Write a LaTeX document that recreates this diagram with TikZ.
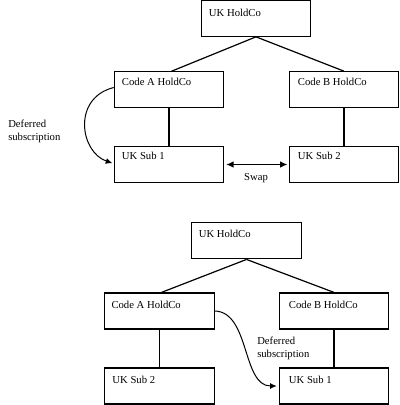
\documentclass[tikz,border=0pt]{standalone}
\usepackage{fontspec}
\setmainfont{Liberation Serif}
\usetikzlibrary{arrows.meta}
\begin{document}
\begin{tikzpicture}[x=0.75pt,y=-0.75pt,
  box/.style={draw, line width=0.9pt, minimum width=82pt, minimum height=26.6pt, inner sep=0pt},
  lbl/.style={font=\fontsize{8}{9.5}\selectfont, inner sep=0pt, anchor=west},
  conn/.style={line width=0.9pt},
  tip/.style={line width=0.75pt, -{Latex[length=5pt,width=4.5pt]}}]
\useasboundingbox (0,0) rectangle (400,405);
% top diagram
\node[box] (ukh) at (256,18.5) {};
\node[box] (ca) at (169,89.5) {};
\node[box] (cb) at (344,89.5) {};
\node[box] (s1) at (169,164.5) {};
\node[box] (s2) at (344,164.5) {};
\node[lbl] (ukht) at ([shift={(8,13)}]ukh.north west) {UK HoldCo};
\node[lbl] (cat) at ([shift={(8,11)}]ca.north west) {Code A HoldCo};
\node[lbl] (cbt) at ([shift={(9,11)}]cb.north west) {Code B HoldCo};
\node[lbl] (s1t) at ([shift={(8,10)}]s1.north west) {UK Sub 1};
\node[lbl] (s2t) at ([shift={(9,10)}]s2.north west) {UK Sub 2};
\draw[conn] (ukh.south) -- ([xshift=2]ca.north);
\draw[conn] (ukh.south) -- (cb.north);
\draw[conn] (ca.south) -- (s1.north);
\draw[conn] (cb.south) -- (s2.north);
\draw[line width=0.9pt, {Latex[length=5.5pt,width=5pt]}-{Latex[length=5.5pt,width=5pt]}] ([xshift=1.5]s1.east) -- ([xshift=-1]s2.west);
\node[font=\fontsize{8}{9.5}\selectfont, inner sep=0pt] (swap) at (256,178.5) {Swap};
\draw[tip] ([yshift=1.5]ca.west) .. controls (72,98) and (80,152) .. ([xshift=-1,yshift=1]s1.west);
\node[lbl, align=left, anchor=north west] (dst) at (8,120) {Deferred\\subscription};
% bottom diagram
\node[box, minimum width=83pt, minimum height=27.5pt] (ukh2) at (246.5,240.5) {};
\node[box, minimum height=27pt] (ca2) at (159.5,311) {};
\node[box, minimum height=27pt] (cb2) at (334,311) {};
\node[box, minimum height=27pt] (s22) at (159.5,386) {};
\node[box, minimum height=27pt] (s12) at (334,386) {};
\node[lbl] (ukh2t) at ([shift={(8,12)}]ukh2.north west) {UK HoldCo};
\node[lbl] (ca2t) at ([shift={(7,12)}]ca2.north west) {Code A HoldCo};
\node[lbl] (cb2t) at ([shift={(10,12)}]cb2.north west) {Code B HoldCo};
\node[lbl] (s22t) at ([shift={(8,12)}]s22.north west) {UK Sub 2};
\node[lbl] (s12t) at ([shift={(10,12)}]s12.north west) {UK Sub 1};
\draw[conn] (ukh2.south) -- ([xshift=1.5]ca2.north);
\draw[conn] (ukh2.south) -- (cb2.north);
\draw[conn] (ca2.south) -- (s22.north);
\draw[conn] (cb2.south) -- (s12.north);
\draw[tip] (ca2.east) .. controls (250,312) and (242,386) .. ([xshift=-1.5]s12.west);
\node[lbl, align=left, anchor=north west] (dsb) at (257,337) {Deferred\\subscription};
\end{tikzpicture}
\end{document}
